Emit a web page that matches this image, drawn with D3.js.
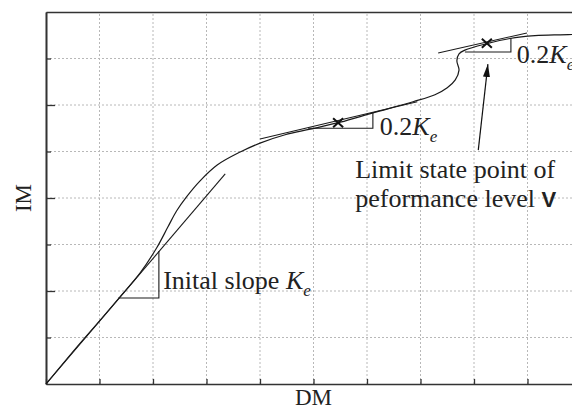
<!DOCTYPE html>
<html>
<head>
<meta charset="utf-8">
<script src="https://cdn.jsdelivr.net/npm/d3@7"></script>
<style>
  body { margin: 0; background: #fff; }
  text { font-family: "Liberation Serif", "Times New Roman", serif; }
</style>
</head>
<body>
<div id="chart"></div>
<script>
// pushover-style capacity curve (DM, IM)
var curveDM = [0, 0.58, 1.01, 1.38, 1.76, 2.07, 2.28, 2.44, 2.63, 2.88, 3.20, 3.63, 4.00, 4.47, 4.94, 5.50, 6.11, 6.86, 7.27, 7.50, 7.65, 7.72, 7.68, 7.72, 7.83, 8.24, 8.67, 9.14, 9.61, 10.0];
var curveIM = [0, 0.80, 1.37, 1.87, 2.39, 2.93, 3.38, 3.72, 4.03, 4.37, 4.71, 4.99, 5.18, 5.36, 5.48, 5.63, 5.83, 6.07, 6.22, 6.37, 6.54, 6.75, 6.95, 7.10, 7.18, 7.32, 7.43, 7.49, 7.51, 7.52];

// tangent lines [start, end]
var initTangentDM = [0, 3.35], initTangentIM = [0, 4.52];
var midTangentDM = [4.00, 6.94], midTangentIM = [5.27, 6.07];
var topTangentDM = [7.33, 8.99], topTangentIM = [7.12, 7.55];

// slope triangles (three corners each)
var initTriDM = [1.35, 2.11, 2.11], initTriIM = [1.85, 1.85, 2.86];
var midTriDM = [4.90, 6.11, 6.11], midTriIM = [5.50, 5.50, 5.84];
var topTriDM = [7.83, 8.69, 8.69], topTriIM = [7.14, 7.14, 7.44];

// limit state markers
var markDM = [5.46, 8.24];
var markIM = [5.62, 7.33];

// arrow to the limit state point of level V
var arrowDM = [8.08, 8.26], arrowIM = [5.03, 6.88];

var xTicks = [0, 1, 2, 3, 4, 5, 6, 7, 8, 9, 10];
var yMajor = [2, 4, 6];
var yMinor = [1, 3, 5, 7];
var yGrid = [1, 2, 3, 4, 5, 6, 7];
var xGrid = [1, 2, 3, 4, 5, 6, 7, 8, 9];

var svg_width = 572, svg_height = 412;
var plotLeft = 46, plotTop = 12, plotRight = 581, plotBottom = 384;
var serif = "Liberation Serif";

var svg = d3.select("#chart").append("svg")
  .attr("width", svg_width).attr("height", svg_height);

var x = d3.scaleLinear().domain([0, 10]).range([plotLeft, plotRight]);
var y = d3.scaleLinear().domain([0, 8]).range([plotBottom, plotTop]);

// dotted grid
var grid = svg.append("g").attr("stroke", "#b8b8b8").attr("stroke-width", 1)
  .attr("stroke-dasharray", "2,2");
xGrid.forEach(function(d) {
  grid.append("line").attr("x1", x(d)).attr("x2", x(d)).attr("y1", y(0)).attr("y2", y(8));
});
yGrid.forEach(function(d) {
  grid.append("line").attr("x1", x(0)).attr("x2", x(10)).attr("y1", y(d)).attr("y2", y(d));
});

// axes, ticks pointing inward, no labels
function styleAxis(g) {
  g.selectAll("path.domain").attr("stroke", "#333").attr("stroke-width", 1.6);
  g.selectAll(".tick line").attr("stroke", "#333").attr("stroke-width", 1.3);
  g.selectAll(".tick text").remove();
}
svg.append("g").attr("transform", "translate(0," + plotBottom + ")")
  .call(d3.axisBottom(x).tickValues(xTicks).tickSize(-5).tickSizeOuter(0).tickFormat(""))
  .call(styleAxis);
svg.append("g").attr("transform", "translate(" + plotLeft + ",0)")
  .call(d3.axisLeft(y).tickValues(yMajor).tickSize(-9).tickSizeOuter(0).tickFormat(""))
  .call(styleAxis);
svg.append("g").attr("transform", "translate(" + plotLeft + ",0)")
  .call(d3.axisLeft(y).tickValues(yMinor).tickSize(-5).tickSizeOuter(0).tickFormat(""))
  .call(styleAxis);
// top frame
svg.append("g").attr("transform", "translate(0," + plotTop + ")")
  .call(d3.axisTop(x).tickValues([]).tickSizeOuter(0))
  .call(styleAxis);

// axis titles
svg.append("text").attr("x", (plotLeft + plotRight) / 2).attr("y", 405)
  .attr("font-family", serif).attr("text-anchor", "middle").attr("font-size", 23)
  .attr("fill", "#222").text("DM");
svg.append("text").attr("transform", "translate(31," + (plotTop + plotBottom) / 2 + ") rotate(-90)")
  .attr("font-family", serif).attr("text-anchor", "middle").attr("font-size", 23)
  .attr("fill", "#222").text("IM");

var line = d3.line().x(function(d) { return x(d[0]); }).y(function(d) { return y(d[1]); });
function pairs(a, b) { return a.map(function(v, i) { return [v, b[i]]; }); }

// capacity curve
svg.append("path").datum(pairs(curveDM, curveIM))
  .attr("d", line.curve(d3.curveCatmullRom.alpha(0.5)))
  .attr("fill", "none").attr("stroke", "#1a1a1a").attr("stroke-width", 1.2);
line.curve(d3.curveLinear);

// tangents
[[initTangentDM, initTangentIM], [midTangentDM, midTangentIM], [topTangentDM, topTangentIM]].forEach(function(t) {
  svg.append("path").datum(pairs(t[0], t[1])).attr("d", line)
    .attr("fill", "none").attr("stroke", "#1a1a1a").attr("stroke-width", 1.1);
});

// slope triangles
[[initTriDM, initTriIM], [midTriDM, midTriIM], [topTriDM, topTriIM]].forEach(function(t) {
  svg.append("path").datum(pairs(t[0], t[1])).attr("d", line)
    .attr("fill", "none").attr("stroke", "#1a1a1a").attr("stroke-width", 1.1);
});

// x markers
markDM.forEach(function(d, i) {
  var cx = x(d), cy = y(markIM[i]);
  svg.append("path")
    .attr("d", "M" + (cx - 5) + "," + (cy - 4.5) + "L" + (cx + 5) + "," + (cy + 4.5) +
               "M" + (cx - 5) + "," + (cy + 4.5) + "L" + (cx + 5) + "," + (cy - 4.5))
    .attr("stroke", "#111").attr("stroke-width", 2).attr("fill", "none");
});

// arrow
svg.append("defs").append("marker").attr("id", "head")
  .attr("markerUnits", "userSpaceOnUse").attr("markerWidth", 13).attr("markerHeight", 7)
  .attr("refX", 13).attr("refY", 3.5).attr("orient", "auto")
  .append("path").attr("d", "M0,0L13,3.5L0,7Z").attr("fill", "#111");
svg.append("path").datum(pairs(arrowDM, arrowIM)).attr("d", line)
  .attr("stroke", "#111").attr("stroke-width", 1.2).attr("marker-end", "url(#head)");

// labels
function slopeLabel(px, py, prefix) {
  var t = svg.append("text").attr("x", px).attr("y", py)
    .attr("font-family", serif).attr("font-size", 26).attr("fill", "#222");
  t.append("tspan").text(prefix);
  t.append("tspan").attr("font-style", "italic").text("K");
  t.append("tspan").attr("font-style", "italic").attr("font-size", 17).attr("dy", 7).text("e");
}
slopeLabel(x(2.19), y(2.04), "Inital slope ");
slopeLabel(x(6.24), y(5.36), "0.2");
slopeLabel(x(8.80), y(6.90), "0.2");

svg.append("text").attr("x", x(5.78)).attr("y", y(4.43))
  .attr("font-family", serif).attr("font-size", 26).attr("fill", "#222")
  .text("Limit state point of");
var t2 = svg.append("text").attr("x", x(5.78)).attr("y", y(3.81))
  .attr("font-family", serif).attr("font-size", 26).attr("fill", "#222");
t2.append("tspan").text("peformance level ");
t2.append("tspan").attr("font-family", "'Liberation Sans', Arial, sans-serif")
  .attr("font-weight", "bold").attr("font-size", 22).text("V");
</script>
</body>
</html>
